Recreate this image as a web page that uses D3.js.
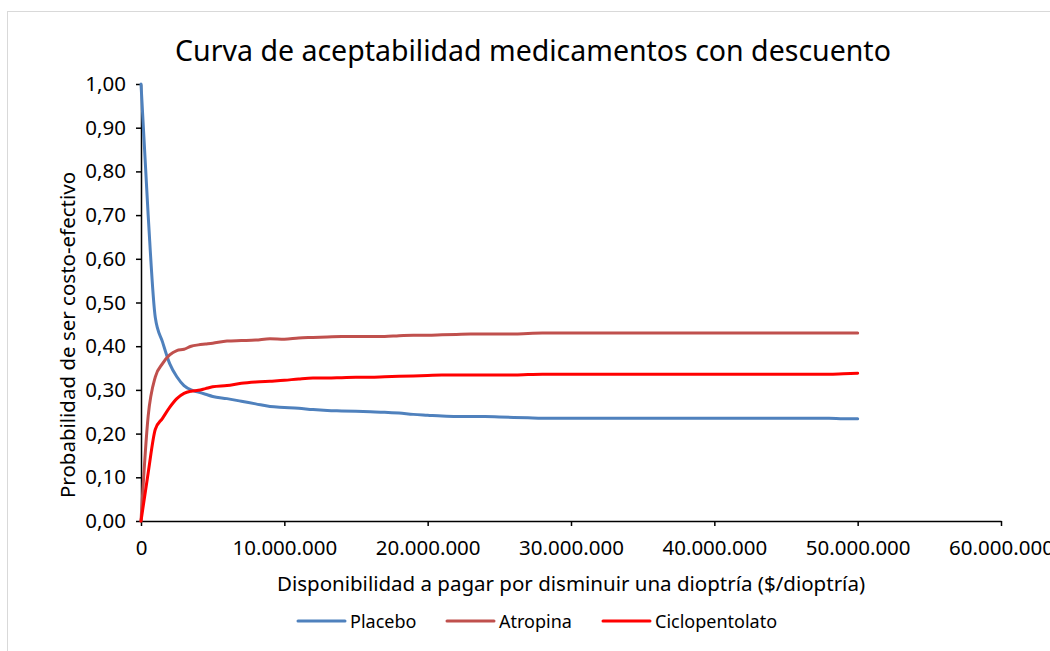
<!DOCTYPE html>
<html>
<head>
<meta charset="utf-8">
<script src="https://cdn.jsdelivr.net/npm/d3@7"></script>
<style>
  body { margin: 0; background: #fff; }
  svg { font-family: "Noto Sans", sans-serif; }
</style>
</head>
<body>
<svg width="1050" height="651"></svg>
<script>
// willingness to pay (millions of $/dioptria)
var wtp = [0, 0.5, 1, 1.5, 2, 2.5, 3, 3.5, 4, 4.5, 5, 6, 7, 8, 9, 10, 11, 12, 13, 14, 15,
           16, 17, 18, 19, 20, 21, 22, 23, 24, 25, 26, 27, 28, 29, 30, 32, 34, 36, 38,
           40, 42, 44, 46, 48, 49, 50];

var placebo = [1.00, 0.70, 0.465, 0.41, 0.36, 0.33, 0.31, 0.30, 0.295, 0.29, 0.285, 0.28, 0.274,
               0.268, 0.262, 0.260, 0.258, 0.255, 0.253, 0.252, 0.251, 0.250, 0.249, 0.247,
               0.244, 0.242, 0.240, 0.239, 0.239, 0.239, 0.238, 0.237, 0.236, 0.235, 0.235,
               0.235, 0.235, 0.235, 0.235, 0.235, 0.235, 0.235, 0.235, 0.235, 0.235, 0.234, 0.234];

var atropina = [0, 0.24, 0.33, 0.36, 0.38, 0.39, 0.393, 0.40, 0.403, 0.405, 0.407, 0.412, 0.413,
                0.414, 0.417, 0.416, 0.419, 0.420, 0.421, 0.422, 0.422, 0.422, 0.422, 0.424,
                0.425, 0.425, 0.426, 0.427, 0.428, 0.428, 0.428, 0.428, 0.429, 0.430, 0.430,
                0.430, 0.430, 0.430, 0.430, 0.430, 0.430, 0.430, 0.430, 0.430, 0.430, 0.430, 0.430];

var ciclopentolato = [0, 0.11, 0.21, 0.235, 0.26, 0.28, 0.292, 0.297, 0.299, 0.303, 0.307, 0.31,
                      0.315, 0.318, 0.32, 0.322, 0.325, 0.327, 0.327, 0.328, 0.329, 0.329, 0.33,
                      0.331, 0.332, 0.333, 0.334, 0.334, 0.334, 0.334, 0.334, 0.334, 0.335, 0.336,
                      0.336, 0.336, 0.336, 0.336, 0.336, 0.336, 0.336, 0.336, 0.336, 0.336, 0.336,
                      0.337, 0.338];

var seriesNames = ["Placebo", "Atropina", "Ciclopentolato"];
var seriesColors = ["#4F81BD", "#C0504D", "#FF0000"];
var seriesValues = [placebo, atropina, ciclopentolato];

var xTicks = [0, 10e6, 20e6, 30e6, 40e6, 50e6, 60e6];
var yTicks = [0, 0.1, 0.2, 0.3, 0.4, 0.5, 0.6, 0.7, 0.8, 0.9, 1.0];

var svg = d3.select("svg");

// chart border
svg.append("rect")
   .attr("x", 7.5).attr("y", 11.5)
   .attr("width", 1100).attr("height", 700)
   .attr("fill", "none")
   .attr("stroke", "#d9d9d9");

var plotLeft = 141, plotRight = 1001, plotTop = 84, plotBottom = 521;

var x = d3.scaleLinear().domain([0, 60e6]).range([plotLeft, plotRight]);
var y = d3.scaleLinear().domain([0, 1]).range([plotBottom, plotTop]);

var loc = d3.formatLocale({decimal: ",", thousands: ".", grouping: [3], currency: ["$", ""]});
var fmtX = loc.format(",.0f");
var fmtY = loc.format(".2f");

var xAxis = svg.append("g")
   .attr("transform", "translate(0," + plotBottom + ")")
   .call(d3.axisBottom(x).tickValues(xTicks).tickFormat(fmtX).tickSize(5).tickSizeOuter(0).tickPadding(10));

var yAxis = svg.append("g")
   .attr("transform", "translate(" + plotLeft + ",0)")
   .call(d3.axisLeft(y).tickValues(yTicks).tickFormat(fmtY).tickSize(5).tickSizeOuter(0).tickPadding(10));

[xAxis, yAxis].forEach(function(a) {
  a.select(".domain").attr("stroke", "#000").attr("stroke-width", 1.5);
  a.selectAll(".tick line").attr("stroke", "#000").attr("stroke-width", 1.5);
  a.selectAll(".tick text").attr("font-size", "20.5px").attr("fill", "#000")
   .attr("font-family", "Noto Sans, sans-serif");
});
xAxis.selectAll(".tick text").attr("dy", "0.95em");

var line = d3.line()
   .x(function(d) { return x(d[0] * 1e6); })
   .y(function(d) { return y(d[1]); })
   .curve(d3.curveMonotoneX);

seriesValues.forEach(function(vals, i) {
  svg.append("path")
     .datum(wtp.map(function(w, j) { return [w, vals[j]]; }))
     .attr("fill", "none")
     .attr("stroke", seriesColors[i])
     .attr("stroke-width", 3)
     .attr("stroke-linejoin", "round")
     .attr("stroke-linecap", "round")
     .attr("d", line);
});

// title
svg.append("text")
   .attr("x", 533).attr("y", 61)
   .attr("text-anchor", "middle")
   .attr("font-size", "28.5px")
   .attr("fill", "#000")
   .text("Curva de aceptabilidad medicamentos con descuento");

// axis titles
svg.append("text")
   .attr("x", (plotLeft + plotRight) / 2).attr("y", 591)
   .attr("text-anchor", "middle")
   .attr("font-size", "20.5px")
   .attr("fill", "#000")
   .text("Disponibilidad a pagar por disminuir una dioptría ($/dioptría)");

svg.append("text")
   .attr("transform", "translate(75,335) rotate(-90)")
   .attr("text-anchor", "middle")
   .attr("font-size", "20.5px")
   .attr("fill", "#000")
   .text("Probabilidad de ser costo-efectivo");

// legend
var legendX = [298, 447, 603];
seriesNames.forEach(function(name, i) {
  var g = svg.append("g").attr("transform", "translate(" + legendX[i] + ",621)");
  g.append("line")
   .attr("x1", 0).attr("x2", 47)
   .attr("stroke", seriesColors[i])
   .attr("stroke-width", 3)
   .attr("stroke-linecap", "round");
  g.append("text")
   .attr("x", 52).attr("y", 6.5)
   .attr("font-size", "18px")
   .attr("fill", "#000")
   .text(name);
});
</script>
</body>
</html>
